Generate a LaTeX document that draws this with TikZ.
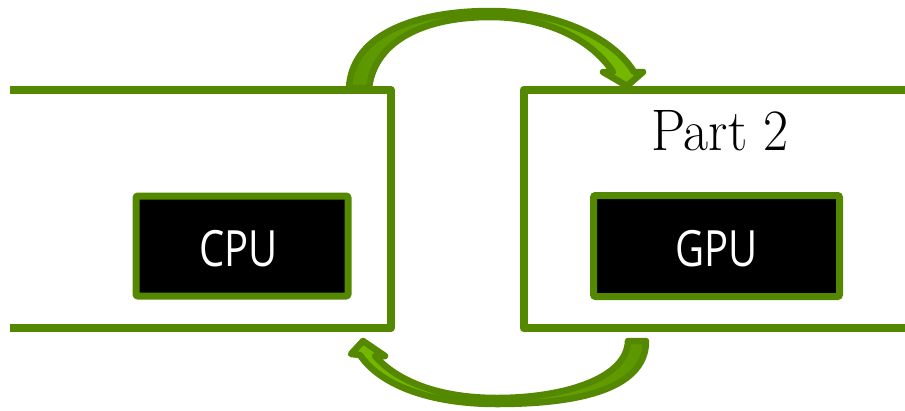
\documentclass[tikz,border=0pt]{standalone}
\usepackage{fontspec}
\newfontfamily\chipfont{Open Sans}
\definecolor{leaf}{RGB}{84,136,0}
\definecolor{leafmid}{RGB}{92,150,0}
\definecolor{leaflight}{RGB}{118,185,0}
\begin{document}
\begin{tikzpicture}[x=1pt,y=-1pt,
  frame/.style={draw=leaf,line width=8pt,line join=round},
  chip/.style={draw=leaf,fill=black,line width=7pt,rounded corners=2pt},
  chiplabel/.style={text=white,font=\chipfont\fontsize{50}{50}\selectfont,anchor=base,inner sep=0pt,xscale=0.8},
  curvearrow/.style={draw=leaf,line width=6.5pt,line join=round}]
\useasboundingbox (0,0) rectangle (905,410);

% host and device frames
\draw[frame] (10,90) -- (391,90) -- (391,328) -- (10,328);
\draw[frame] (910,90) -- (523.5,90) -- (523.5,328) -- (910,328);

% processor blocks
\draw[chip] (136,196) rectangle (348,296);
\draw[chip] (593.5,195.5) rectangle (839.5,296.5);
\node[chiplabel] (cpu) at (238.5,266) {CPU};
\node[chiplabel] (gpu) at (716.5,266) {GPU};

\node[anchor=base,inner sep=0pt,font=\fontsize{58.6}{60}\selectfont,xscale=0.93] (part) at (720,150) {Part 2};

% transfer host -> device
\path[curvearrow,left color=leafmid,right color=leaflight]
  (349,88) .. controls (352,32) and (420,11) .. (490,11)
  .. controls (560,11) and (615,40) .. (634,72)
  -- (643,72) -- (627,86) -- (603,72) -- (613,72)
  .. controls (590,38) and (545,17) .. (490,17)
  .. controls (425,17) and (375,40) .. (369,88) -- cycle;

% transfer device -> host
\path[curvearrow,left color=leaflight,right color=leafmid]
  (646,341) .. controls (646,392) and (570,404) .. (497,404)
  .. controls (430,404) and (380,385) .. (360,355)
  -- (351,354) -- (363,341) -- (385,356) -- (375,356)
  .. controls (398,382) and (440,398) .. (497,398)
  .. controls (565,398) and (627,378) .. (628,341) -- cycle;
\end{tikzpicture}
\end{document}
